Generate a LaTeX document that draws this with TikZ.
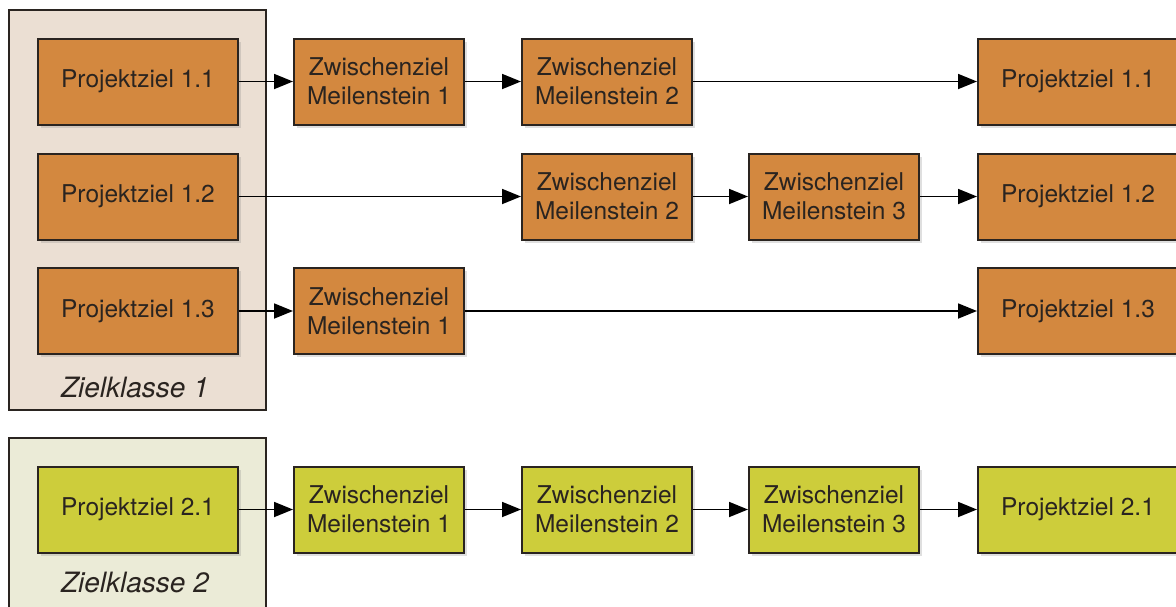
\documentclass[tikz,border=0pt]{standalone}
\usepackage{fontspec}
\setmainfont{TeX Gyre Heros}
\usetikzlibrary{arrows.meta,shadows}
\definecolor{zielorange}{HTML}{D3883F}
\definecolor{zielgruen}{HTML}{CDCD3B}
\definecolor{klasseeins}{HTML}{EBDFD3}
\definecolor{klassezwei}{HTML}{EBEBD7}
\definecolor{rand}{HTML}{2A2420}
\tikzset{
  ziel/.style={draw=rand, line width=2pt, minimum width=200pt, minimum height=86pt,
    inner sep=0pt, align=center, text=rand, font=\fontsize{24.5}{29}\selectfont,
    drop shadow={shadow xshift=2.5pt, shadow yshift=-3pt, opacity=0.25}},
  zwischen/.style={ziel, minimum width=170pt},
  stufeeins/.style={fill=zielorange},
  stufezwei/.style={fill=zielgruen},
  klasse/.style={draw=rand, line width=2pt, minimum width=257pt, inner sep=0pt},
  klassetext/.style={text=rand, font=\fontsize{28}{32}\selectfont\itshape},
  pfeil/.style={-{Triangle[length=19pt,width=15pt]}, line width=1.8pt, draw=black}
}
\begin{document}
\begin{tikzpicture}[x=1pt,y=-1pt]
      \useasboundingbox (0,0) rectangle (1176,606);
      \clip (0,0) rectangle (1176,606);
      \fill[white] (0,0) rectangle (1176,606);
      % Zielklassen
      \node[klasse, fill=klasseeins, minimum height=400pt] (k1) at (137.5,210) {};
      \node[klasse, fill=klassezwei, minimum height=220pt] (k2) at (137.5,548) {};
      \node[klassetext] (k1text) at (135,387) {Zielklasse 1};
      \node[klassetext] (k2text) at (135,582) {Zielklasse 2};
      % Zielklasse 1
      \node[ziel, stufeeins] (p11) at (138,81.5) {Projektziel 1.1};
      \node[zwischen, stufeeins] (m11) at (379,81.5) {Zwischenziel\\Meilenstein 1};
      \node[zwischen, stufeeins] (m12) at (607,81.5) {Zwischenziel\\Meilenstein 2};
      \node[ziel, stufeeins] (e11) at (1078,81.5) {Projektziel 1.1};
      \node[ziel, stufeeins] (p12) at (138,196.5) {Projektziel 1.2};
      \node[zwischen, stufeeins] (m22) at (607,196.5) {Zwischenziel\\Meilenstein 2};
      \node[zwischen, stufeeins] (m23) at (834,196.5) {Zwischenziel\\Meilenstein 3};
      \node[ziel, stufeeins] (e12) at (1078,196.5) {Projektziel 1.2};
      \node[ziel, stufeeins] (p13) at (138,311) {Projektziel 1.3};
      \node[zwischen, stufeeins] (m31) at (379,311) {Zwischenziel\\Meilenstein 1};
      \node[ziel, stufeeins] (e13) at (1078,311) {Projektziel 1.3};
      % Zielklasse 2
      \node[ziel, stufezwei] (p21) at (138,509.5) {Projektziel 2.1};
      \node[zwischen, stufezwei] (m41) at (379,509.5) {Zwischenziel\\Meilenstein 1};
      \node[zwischen, stufezwei] (m42) at (607,509.5) {Zwischenziel\\Meilenstein 2};
      \node[zwischen, stufezwei] (m43) at (834,509.5) {Zwischenziel\\Meilenstein 3};
      \node[ziel, stufezwei] (e21) at (1078,509.5) {Projektziel 2.1};
      \begin{scope}[pfeil]
        \draw (p11) -- (m11);
        \draw (m11) -- (m12);
        \draw (m12) -- (e11);
        \draw (p12) -- (m22);
        \draw (m22) -- (m23);
        \draw (m23) -- (e12);
        \draw (p13) -- (m31);
        \draw (m31) -- (e13);
        \draw (p21) -- (m41);
        \draw (m41) -- (m42);
        \draw (m42) -- (m43);
        \draw (m43) -- (e21);
      \end{scope}
    \end{tikzpicture}
\end{document}
